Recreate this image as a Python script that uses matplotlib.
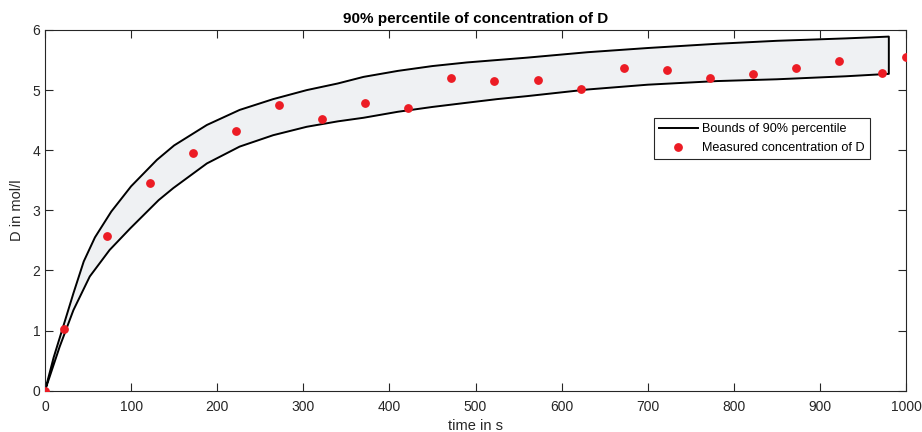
import matplotlib
matplotlib.use('Agg')
import matplotlib.pyplot as plt
import numpy as np

plt.rcParams['font.family'] = ['Liberation Sans', 'DejaVu Sans']

# bounds of the 90% percentile band
t_upper = [0, 10, 21, 33, 45, 58, 77, 100, 130, 150, 188, 226, 265, 304, 340, 370,
           410, 450, 490, 525, 560, 630, 700, 780, 850, 930, 980]
d_upper = [0, 0.55, 1.06, 1.62, 2.15, 2.55, 2.98, 3.40, 3.84, 4.08, 4.42, 4.67, 4.85,
           5.00, 5.11, 5.22, 5.32, 5.40, 5.46, 5.50, 5.54, 5.63, 5.70, 5.77, 5.82, 5.86, 5.89]
t_lower = [0, 17, 33, 52, 75, 99, 132, 149, 188, 226, 265, 304, 340, 370, 410, 450,
           490, 525, 560, 630, 700, 780, 850, 930, 980]
d_lower = [0, 0.73, 1.34, 1.90, 2.34, 2.70, 3.17, 3.37, 3.78, 4.06, 4.25, 4.39, 4.48,
           4.54, 4.64, 4.72, 4.79, 4.85, 4.90, 5.01, 5.09, 5.15, 5.18, 5.23, 5.27]

# measured concentration of D
t_meas = [0, 22, 72, 122, 172, 222, 272, 322, 372, 422, 472, 522, 572, 622, 672,
          722, 772, 822, 872, 922, 972, 1000]
d_meas = [0, 1.02, 2.57, 3.46, 3.95, 4.32, 4.75, 4.52, 4.79, 4.71, 5.20, 5.15, 5.17,
          5.01, 5.36, 5.34, 5.20, 5.27, 5.37, 5.48, 5.29, 5.55]

edge = '#262626'

fig = plt.figure(figsize=(9.22, 4.32), dpi=100)
ax = fig.add_axes([0.0488, 0.0956, 0.9339, 0.835])

poly_t = t_upper + t_lower[::-1]
poly_d = d_upper + d_lower[::-1]
ax.fill(poly_t, poly_d, color='#eff1f3', zorder=1)
ax.plot(poly_t, poly_d, color='black', linewidth=1.4, zorder=2,
        label='Bounds of 90% percentile')
ax.plot(t_meas, d_meas, linestyle='none', marker='o', markersize=5.3,
        color='#ec1c24', zorder=3, label='Measured concentration of D')

ax.set_xlim(0, 1000)
ax.set_ylim(0, 6)
ax.set_xticks(np.arange(0, 1001, 100))
ax.set_yticks(np.arange(0, 7, 1))
ax.tick_params(direction='in', length=5.8, width=0.8, top=True, right=True,
               colors=edge, labelsize=10, labelcolor=edge)
ax.tick_params(axis='x', pad=7)
for s in ax.spines.values():
    s.set_color(edge)
    s.set_linewidth(0.8)

ax.set_xlabel('time in s', fontsize=10.5, color=edge, labelpad=3)
ax.set_ylabel('D in mol/l', fontsize=10.5, color=edge, labelpad=6)
ax.set_title('90% percentile of concentration of D', fontsize=11, fontweight='bold',
             pad=5)

leg = ax.legend(loc='upper right', bbox_to_anchor=(0.958, 0.755), fontsize=9.1,
                fancybox=False, framealpha=1, borderpad=0.4, handlelength=3.1,
                labelspacing=0.55, handletextpad=0.35, borderaxespad=0)
leg.get_frame().set_edgecolor(edge)
leg.get_frame().set_linewidth(0.8)

fig.savefig('out.png', dpi=100)
